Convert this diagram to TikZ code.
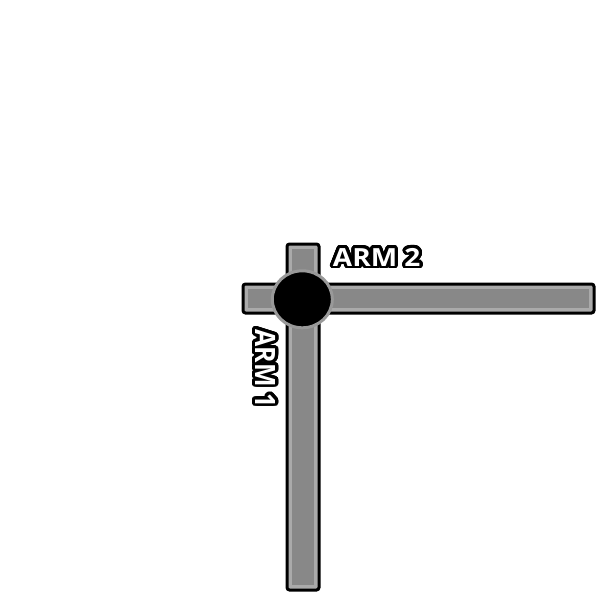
\documentclass[tikz,border=0pt]{standalone}
\usepackage{fontspec}
\setmainfont{Open Sans}
\usepackage{contour}
\contourlength{2.8pt}
\contournumber{32}
\definecolor{barfill}{HTML}{888888}
\definecolor{barrim}{HTML}{AAAAAA}
\definecolor{jointrim}{HTML}{999999}
\tikzset{
  barout/.style={draw=black, line width=3pt, fill=barrim, rounded corners=2.5pt},
  barin/.style={fill=barfill},
  armlabel/.style={font=\bfseries\fontsize{25}{25}\selectfont, inner sep=0pt, xscale=1.12},
  joint/.style={draw=jointrim, line width=3pt, fill=black}
}
\begin{document}
\begin{tikzpicture}[x=1pt,y=-1pt]
\useasboundingbox (0,0) rectangle (600,600);
% arm 1 (vertical)
\draw[barout] (287,244) rectangle (319,590);
\fill[barin] (292,249) rectangle (314,585);
% arm 2 (horizontal)
\draw[barout] (243,284) rectangle (594,313);
\fill[barin] (248,289) rectangle (589,308);
% joint
\draw[joint] (302.3,299.3) ellipse [x radius=30,y radius=28.5];
% labels
\node[armlabel] (arm2) at (376.7,258.5) {\contour{black}{\textcolor{white}{ARM 2}}};
\node[armlabel, rotate=-90] (arm1) at (263.7,368.3) {\contour{black}{\textcolor{white}{ARM 1}}};
\end{tikzpicture}
\end{document}
